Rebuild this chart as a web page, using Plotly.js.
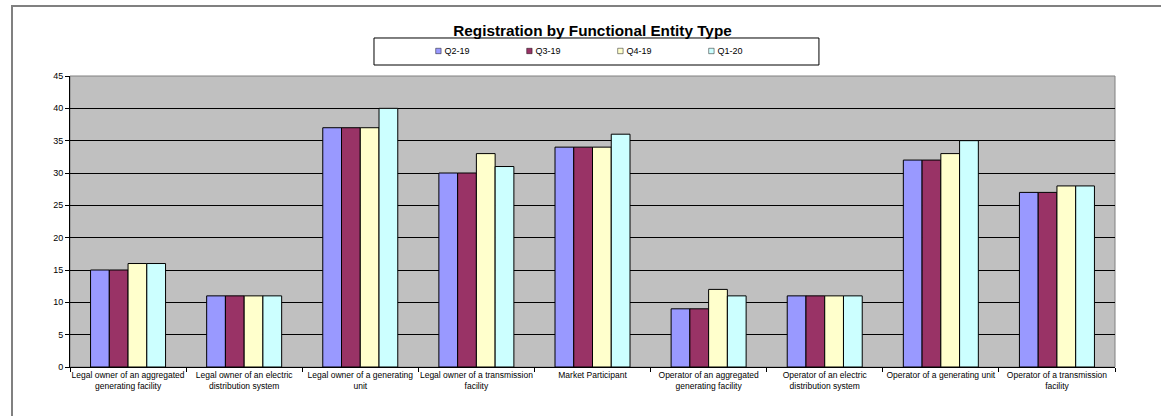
<!DOCTYPE html>
<html>
<head>
<meta charset="utf-8">
<script src="https://cdn.plot.ly/plotly-3.0.1.min.js"></script>
<style>
html,body{margin:0;padding:0;background:#fff;}
#chart{width:1161px;height:416px;}
#chart .legendpoints path{transform: translate(34px,0px) scale(0.45);}
</style>
</head>
<body>
<div id="chart"></div>
<script>
const categories = [
  "Legal owner of an aggregated<br>generating facility",
  "Legal owner of an electric<br>distribution system",
  "Legal owner of a generating<br>unit",
  "Legal owner of a transmission<br>facility",
  "Market Participant",
  "Operator of an aggregated<br>generating facility",
  "Operator of an electric<br>distribution system",
  "Operator of a generating unit",
  "Operator of a transmission<br>facility"
];
const seriesNames = ["Q2-19", "Q3-19", "Q4-19", "Q1-20"];
const q2_19 = [15, 11, 37, 30, 34, 9, 11, 32, 27];
const q3_19 = [15, 11, 37, 30, 34, 9, 11, 32, 27];
const q4_19 = [16, 11, 37, 33, 34, 12, 11, 33, 28];
const q1_20 = [16, 11, 40, 31, 36, 11, 11, 35, 28];
const seriesValues = [q2_19, q3_19, q4_19, q1_20];
const colors = ["#9999FF", "#993366", "#FFFFCC", "#CCFFFF"];

const traces = seriesNames.map((n, i) => ({
  type: "bar",
  name: n,
  x: categories,
  y: seriesValues[i],
  marker: {color: colors[i], line: {color: "#000", width: 1}}
}));

const layout = {
  width: 1161, height: 416,
  margin: {l: 70, r: 46, t: 76, b: 49},
  paper_bgcolor: "#fff",
  plot_bgcolor: "#c0c0c0",
  font: {family: "Liberation Sans, Arial, sans-serif", color: "#000", size: 8},
  title: {text: "<b>Registration by Functional Entity Type</b>", font: {size: 15.3, family: "Liberation Sans, Arial, sans-serif"}, xref: "paper", x: 0.5, xanchor: "center", y: 0.927, yanchor: "middle"},
  barmode: "group",
  bargap: 0.354,
  bargroupgap: 0,
  showlegend: true,
  legend: {
    orientation: "h", x: 0.320, xanchor: "left", y: 1.086, yanchor: "middle",
    entrywidth: 46, entrywidthmode: "pixels", itemwidth: 30,
    bgcolor: "rgba(0,0,0,0)", borderwidth: 0, font: {size: 9}, traceorder: "normal"
  },
  xaxis: {
    type: "category", tickson: "boundaries", ticks: "outside", ticklen: 4, tickcolor: "#000",
    showline: true, linecolor: "#000", linewidth: 1, showgrid: false,
    tickfont: {size: 8.5}, tickangle: 0, automargin: false
  },
  yaxis: {
    range: [0, 45], dtick: 5, ticks: "outside", ticklen: 4, tickcolor: "#000",
    showline: true, linecolor: "#000", linewidth: 1, showgrid: true, gridcolor: "#000", gridwidth: 1,
    zeroline: false, tickfont: {size: 9}, automargin: false
  },
  shapes: [
    {type: "rect", xref: "paper", yref: "paper", x0: -0.0555, x1: 1.2, y0: -0.6, y1: 1.2405, line: {color: "#808080", width: 2}, layer: "below"},
    {type: "rect", xref: "paper", yref: "paper", x0: 0, x1: 1, y0: 0, y1: 1, line: {color: "#808080", width: 1}, layer: "below"},
    {type: "rect", xref: "paper", yref: "paper", x0: 0.2909, x1: 0.7167, y0: 1.0378, y1: 1.1306, line: {color: "#000", width: 1}, fillcolor: "rgba(0,0,0,0)"}
  ]
};

Plotly.newPlot("chart", traces, layout, {displayModeBar: false, staticPlot: true});
</script>
</body>
</html>
